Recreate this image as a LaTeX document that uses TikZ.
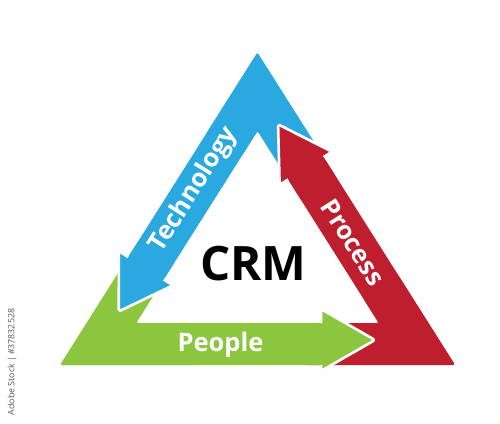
\documentclass[tikz,border=0pt]{standalone}
\usepackage{fontspec}
\setmainfont{Open Sans}
\definecolor{cblue}{HTML}{29A9E0}
\definecolor{cred}{HTML}{BE1E2D}
\definecolor{cgreen}{HTML}{8CC63F}
\tikzset{
  headline/.style={white, line width=1.5pt, line join=round, rounded corners=1pt},
  bandtext/.style={text=white, font=\bfseries\fontsize{14.5}{14.5}\selectfont, inner sep=0pt},
}
\begin{document}
\begin{tikzpicture}[x=0.02cm,y=0.02cm]
\useasboundingbox (0,0) rectangle (500,423);
\fill[white] (0,0) rectangle (500,423);
% corner (tail) pieces
\fill[cgreen, rounded corners=1.2pt] (60,58) -- (140.1,184.8) -- (175.6,162.4) -- (136.2,100) -- (200,100) -- (200,58) -- cycle;
\fill[cred, rounded corners=1.2pt] (455,58) -- (398.3,147.7) -- (362.8,125.3) -- (378.8,100) -- (305,100) -- (305,58) -- cycle;
\fill[cblue, rounded corners=1.2pt] (257.5,370.5) -- (337.6,243.8) -- (302.1,221.4) -- (257.5,291.9) -- (241.5,266.6) -- (206,289) -- cycle;
% green arrow (People)
\begin{scope}[shift={(60,58)}]
\fill[cgreen, rounded corners=1.2pt] (0,0) -- (261,0) -- (261,-6) -- (315,25) -- (261,56) -- (261,42) -- (76.2,42) -- cycle;
\draw[headline] (261,0) -- (261,-6) -- (315,25) -- (261,56) -- (261,42);
\end{scope}
% blue arrow (Technology)
\begin{scope}[shift={(257.5,370.5)}, rotate=237.71]
\fill[cblue, rounded corners=1.2pt] (0,0) -- (242,0) -- (242,-11) -- (293,21) -- (242,53) -- (242,42) -- (66.5,42) -- cycle;
\draw[headline] (242,0) -- (242,-11) -- (293,21) -- (242,53) -- (242,42);
\end{scope}
% red arrow (Process)
\begin{scope}[shift={(455,58)}, rotate=122.29]
\fill[cred, rounded corners=1.2pt] (0,0) -- (246,0) -- (246,-10) -- (298,21) -- (246,52) -- (246,42) -- (76.2,42) -- cycle;
\draw[headline] (246,0) -- (246,-10) -- (298,21) -- (246,52) -- (246,42);
\end{scope}
% labels
\node[bandtext, rotate=57.71] (tech) at (194,233) {Technology};
\node[bandtext, rotate=-57.71] (proc) at (353,180.5) {Process};
\node[bandtext, anchor=base] (peop) at (220.5,71.5) {People};
\node[text=black, font=\bfseries\fontsize{27}{27}\selectfont, anchor=base, inner sep=0pt] (crm) at (253.3,143) {CRM};
\node[text=black!65, font=\fontsize{5}{5}\selectfont, rotate=90, inner sep=0pt] (wm) at (12,61) {Adobe Stock | \#37832528};
\end{tikzpicture}
\end{document}
